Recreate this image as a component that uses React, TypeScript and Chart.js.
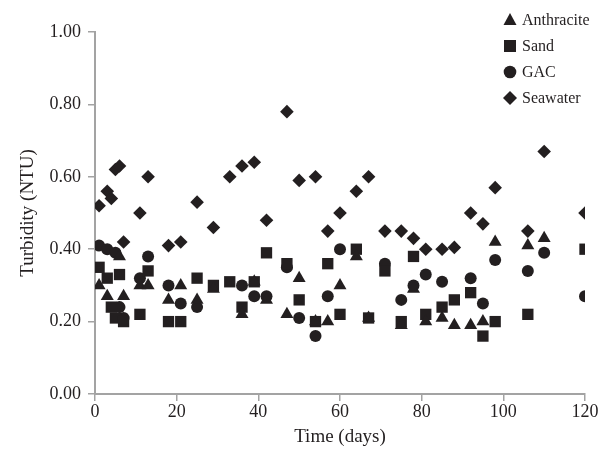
import React, { useEffect, useRef } from 'react';
import { Chart, registerables } from 'chart.js';

Chart.register(...registerables);

const FONT = "'Liberation Serif', 'Times New Roman', serif";
const INK = '#231f20';
const AXIS = '#a3a3a3';

const seriesNames = ['Anthracite', 'Sand', 'GAC', 'Seawater'];

const anthraciteDays = [1, 3, 6, 7, 11, 13, 18, 21, 25, 29, 36, 39, 42, 47, 50, 54, 57, 60, 64, 67, 75, 78, 81, 85, 88, 92, 95, 98, 106, 110];
const anthraciteTurbidity = [0.30, 0.27, 0.38, 0.27, 0.30, 0.30, 0.26, 0.30, 0.26, 0.29, 0.22, 0.31, 0.26, 0.22, 0.32, 0.20, 0.20, 0.30, 0.38, 0.21, 0.19, 0.29, 0.20, 0.21, 0.19, 0.19, 0.20, 0.42, 0.41, 0.43];

const sandDays = [1, 3, 4, 5, 6, 7, 11, 13, 18, 21, 25, 29, 33, 36, 39, 42, 47, 50, 54, 57, 60, 64, 67, 71, 75, 78, 81, 85, 88, 92, 95, 98, 106, 120];
const sandTurbidity = [0.35, 0.32, 0.24, 0.21, 0.33, 0.20, 0.22, 0.34, 0.20, 0.20, 0.32, 0.30, 0.31, 0.24, 0.31, 0.39, 0.36, 0.26, 0.20, 0.36, 0.22, 0.40, 0.21, 0.34, 0.20, 0.38, 0.22, 0.24, 0.26, 0.28, 0.16, 0.20, 0.22, 0.40];

const gacDays = [1, 3, 5, 6, 7, 11, 13, 18, 21, 25, 36, 39, 42, 47, 50, 54, 57, 60, 71, 75, 78, 81, 85, 92, 95, 98, 106, 110, 120];
const gacTurbidity = [0.41, 0.40, 0.39, 0.24, 0.21, 0.32, 0.38, 0.30, 0.25, 0.24, 0.30, 0.27, 0.27, 0.35, 0.21, 0.16, 0.27, 0.40, 0.36, 0.26, 0.30, 0.33, 0.31, 0.32, 0.25, 0.37, 0.34, 0.39, 0.27];

const seawaterDays = [1, 3, 4, 5, 6, 7, 11, 13, 18, 21, 25, 29, 33, 36, 39, 42, 47, 50, 54, 57, 60, 64, 67, 71, 75, 78, 81, 85, 88, 92, 95, 98, 106, 110, 120];
const seawaterTurbidity = [0.52, 0.56, 0.54, 0.62, 0.63, 0.42, 0.50, 0.60, 0.41, 0.42, 0.53, 0.46, 0.60, 0.63, 0.64, 0.48, 0.78, 0.59, 0.60, 0.45, 0.50, 0.56, 0.60, 0.45, 0.45, 0.43, 0.40, 0.40, 0.405, 0.50, 0.47, 0.57, 0.45, 0.67, 0.50];

const xTickValues = [0, 20, 40, 60, 80, 100, 120];
const yTickValues = [0, 0.2, 0.4, 0.6, 0.8, 1.0];

const toPoints = (xs: number[], ys: number[]) => xs.map((x, i) => ({ x, y: ys[i] }));

const styles = [
  { pointStyle: 'triangle', radius: 7.5 },
  { pointStyle: 'rect', radius: 8 },
  { pointStyle: 'circle', radius: 6 },
  { pointStyle: 'rectRot', radius: 6.8 },
];

function drawMarker(ctx: CanvasRenderingContext2D, style: string, x: number, y: number) {
  ctx.beginPath();
  if (style === 'triangle') {
    ctx.moveTo(x, y - 7);
    ctx.lineTo(x + 6.5, y + 5);
    ctx.lineTo(x - 6.5, y + 5);
    ctx.closePath();
  } else if (style === 'rect') {
    ctx.rect(x - 6, y - 6, 12, 12);
  } else if (style === 'circle') {
    ctx.arc(x, y, 6.3, 0, Math.PI * 2);
  } else {
    ctx.moveTo(x, y - 7);
    ctx.lineTo(x + 7, y);
    ctx.lineTo(x, y + 7);
    ctx.lineTo(x - 7, y);
    ctx.closePath();
  }
  ctx.fill();
}

const legendPlugin = {
  id: 'verticalLegend',
  afterDraw(chart: any) {
    const ctx: CanvasRenderingContext2D = chart.ctx;
    ctx.save();
    ctx.fillStyle = INK;
    ctx.font = `16px ${FONT}`;
    ctx.textBaseline = 'middle';
    ctx.textAlign = 'left';
    seriesNames.forEach((name, i) => {
      const y = 20 + i * 26;
      drawMarker(ctx, styles[i].pointStyle, 510, y);
      ctx.fillText(name, 522, y + 1);
    });
    ctx.restore();
  },
};

export default function App() {
  const canvasRef = useRef<HTMLCanvasElement | null>(null);

  useEffect(() => {
    if (!canvasRef.current) return;
    const seriesData = [
      toPoints(anthraciteDays, anthraciteTurbidity),
      toPoints(sandDays, sandTurbidity),
      toPoints(gacDays, gacTurbidity),
      toPoints(seawaterDays, seawaterTurbidity),
    ];
    const chart = new Chart(canvasRef.current, {
      type: 'scatter',
      data: {
        datasets: seriesNames.map((label, i) => ({
          label,
          data: seriesData[i],
          pointStyle: styles[i].pointStyle as any,
          pointRadius: styles[i].radius,
          pointHoverRadius: styles[i].radius,
          pointBackgroundColor: INK,
          pointBorderColor: INK,
          pointBorderWidth: 0,
          showLine: false,
        })),
      },
      options: {
        animation: false,
        responsive: false,
        devicePixelRatio: 1,
        layout: { padding: { top: 32, right: 14, left: 0, bottom: 0 } },
        plugins: {
          legend: { display: false },
          tooltip: { enabled: false },
        },
        scales: {
          x: {
            type: 'linear',
            min: 0,
            max: 120,
            afterBuildTicks: (scale: any) => {
              scale.ticks = xTickValues.map((v) => ({ value: v }));
            },
            afterFit: (scale: any) => {
              scale.height = 60;
              scale.paddingRight = 0;
              scale.paddingLeft = 0;
            },
            ticks: {
              color: INK,
              font: { family: FONT, size: 18 },
              padding: 0,
              maxRotation: 0,
            },
            grid: {
              display: true,
              drawOnChartArea: false,
              drawTicks: true,
              tickLength: 7,
              color: AXIS,
              lineWidth: 1.5,
            },
            border: { display: true, color: AXIS, width: 2 },
            title: {
              display: true,
              text: 'Time (days)',
              color: INK,
              font: { family: FONT, size: 19 },
              padding: { top: 0, bottom: 6 },
            },
          },
          y: {
            type: 'linear',
            min: 0,
            max: 1,
            afterBuildTicks: (scale: any) => {
              scale.ticks = yTickValues.map((v) => ({ value: v }));
            },
            afterFit: (scale: any) => {
              scale.width = 95;
              scale.paddingTop = 0;
              scale.paddingBottom = 0;
            },
            ticks: {
              color: INK,
              font: { family: FONT, size: 18 },
              padding: 7,
              callback: (v: any) => Number(v).toFixed(2),
            },
            grid: {
              display: true,
              drawOnChartArea: false,
              drawTicks: true,
              tickLength: 7,
              color: AXIS,
              lineWidth: 1.5,
            },
            border: { display: true, color: AXIS, width: 2 },
            title: {
              display: true,
              text: 'Turbidity (NTU)',
              color: INK,
              font: { family: FONT, size: 19 },
              padding: { top: 17, bottom: 0 },
            },
          },
        },
      },
      plugins: [legendPlugin],
    });
    return () => chart.destroy();
  }, []);

  return (
    <div style={{ position: 'fixed', left: 0, top: 0, width: 599, height: 454, background: '#ffffff' }}>
      <canvas ref={canvasRef} width={599} height={454} style={{ display: 'block' }} />
    </div>
  );
}
